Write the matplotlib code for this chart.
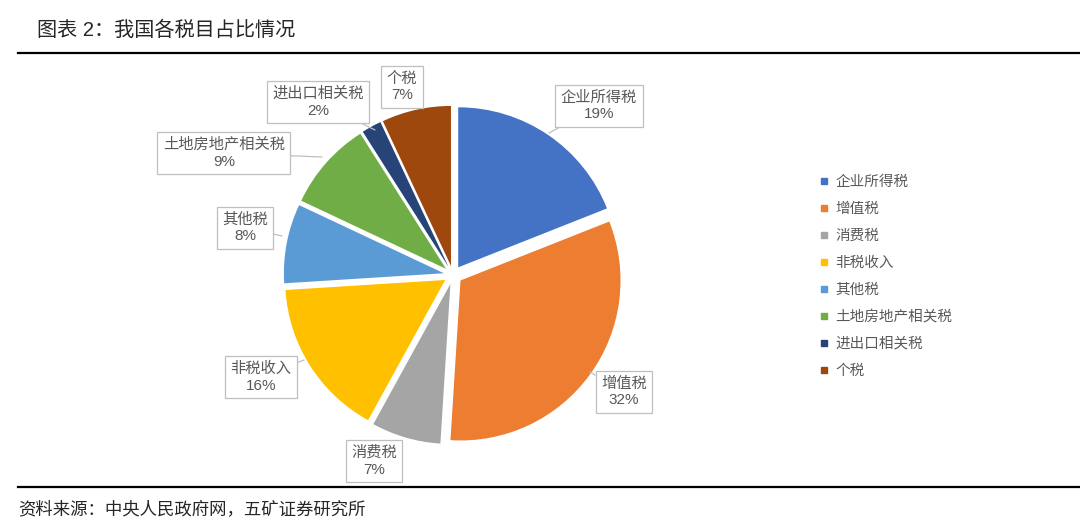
import matplotlib
matplotlib.use("Agg")
import matplotlib.pyplot as plt
from matplotlib.lines import Line2D

plt.rcParams['font.family'] = ['Liberation Sans', 'Noto Sans CJK SC', 'DejaVu Sans']

# ---- data ----
categories = ['企业所得税', '增值税', '消费税', '非税收入', '其他税', '土地房地产相关税', '进出口相关税', '个税']
shares = [19, 32, 7, 16, 8, 9, 2, 7]
pct_labels = ['19%', '32%', '7%', '16%', '8%', '9%', '2%', '7%']
colors = ['#4472C4', '#ED7D31', '#A5A5A5', '#FFC000', '#5B9BD5', '#70AD47', '#264478', '#9E480E']

title = '图表 2：我国各税目占比情况'
source = '资料来源：中央人民政府网，五矿证券研究所'

# ---- layout (pixels) ----
W, H = 1080, 529
CX, CY, R = 453, 275, 160

def P(x, y):
    return ((x - CX) / R, (CY - y) / R)

# callout box centers and pointer tips (pixel coords), None = no pointer
box_centers = [(599, 106), (624, 392), (374, 461), (261, 377), (245, 228), (224, 153), (318, 102), (402, 87)]
tips = [(549, 133), (590, 372), None, (304, 360), (282, 236), (322, 157), (375, 130), None]

fig = plt.figure(figsize=(W / 100, H / 100), dpi=100)
ax = fig.add_axes([0, 0, 1, 1])

wedges, _ = ax.pie(shares, colors=colors, startangle=90, counterclock=False,
                   radius=1, center=(0, 0), explode=[0.058] * len(shares),
                   wedgeprops=dict(linewidth=0))

ax.set_xlim((0 - CX) / R, (W - CX) / R)
ax.set_ylim((CY - H) / R, CY / R)
ax.set_aspect('auto')
ax.axis('off')

for i, (cat, pl) in enumerate(zip(categories, pct_labels)):
    txt = f'{cat}\n{pl}'
    bbox = dict(boxstyle='square,pad=0.36', fc='white', ec='#BFBFBF', lw=0.9)
    if tips[i] is not None:
        ax.annotate(txt, xy=P(*tips[i]), xytext=P(*box_centers[i]),
                    ha='center', va='center', fontsize=11, color='#595959',
                    linespacing=1.25, bbox=bbox, zorder=5,
                    arrowprops=dict(arrowstyle='-', color='#BFBFBF', lw=0.9,
                                    shrinkA=0, shrinkB=0))
    else:
        ax.text(*P(*box_centers[i]), txt, ha='center', va='center', fontsize=11,
                color='#595959', linespacing=1.25, bbox=bbox, zorder=5)

# legend
handles = [Line2D([], [], marker='s', linestyle='none', markersize=4,
                  markerfacecolor=c, markeredgecolor=c) for c in colors]
leg = fig.legend(handles, categories, loc='upper left',
                 bbox_to_anchor=(812 / W, 1 - 167.5 / H), frameon=False,
                 fontsize=10.5, labelcolor='#595959', handlelength=0.6,
                 handletextpad=0.5, labelspacing=0.89, borderpad=0)

# title, rules, source
fig.text(37 / W, 1 - 30 / H, title, fontsize=14.5, color='#262626', va='center', ha='left')
fig.add_artist(Line2D([18 / W, 1], [1 - 52.5 / H] * 2, color='black', lw=1.6))
fig.add_artist(Line2D([18 / W, 1], [1 - 486.5 / H] * 2, color='black', lw=1.6))
fig.text(18 / W, 1 - 509 / H, source, fontsize=12.5, color='#262626', va='center', ha='left')

fig.savefig('out.png', dpi=100)
